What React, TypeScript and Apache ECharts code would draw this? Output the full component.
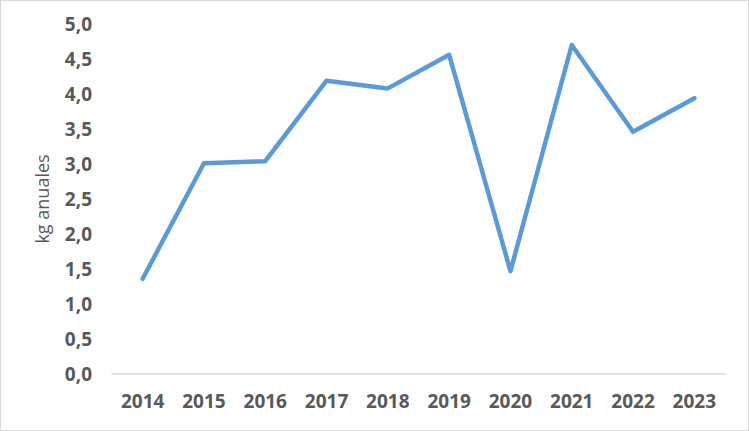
import { useEffect, useRef } from "react";
import * as echarts from "echarts";

const years = ["2014", "2015", "2016", "2017", "2018", "2019", "2020", "2021", "2022", "2023"];
const kgAnuales = [1.36, 3.01, 3.04, 4.19, 4.08, 4.56, 1.47, 4.7, 3.46, 3.94];

export default function App() {
    const containerRef = useRef<HTMLDivElement | null>(null);

    useEffect(() => {
        if (!containerRef.current) return;
        const chart = echarts.init(containerRef.current, null, { renderer: "svg" });

        const labelFont = {
            color: "#595959",
            fontFamily: "Open Sans",
            fontWeight: "bold" as const,
            fontSize: 19,
        };

        chart.setOption({
            animation: false,
            backgroundColor: "#ffffff",
            grid: { left: 111, right: 23, top: 23, bottom: 56 },
            xAxis: {
                type: "category",
                data: years,
                boundaryGap: true,
                axisLine: { show: true, lineStyle: { color: "#d9d9d9", width: 1.5 } },
                axisTick: { show: false },
                axisLabel: { ...labelFont, margin: 17 },
                splitLine: { show: false },
            },
            yAxis: {
                type: "value",
                min: 0,
                max: 5,
                interval: 0.5,
                name: "kg anuales",
                nameLocation: "middle",
                nameGap: 61,
                nameRotate: 90,
                nameTextStyle: { color: "#595959", fontFamily: "Open Sans", fontSize: 18 },
                axisLine: { show: false },
                axisTick: { show: false },
                splitLine: { show: false },
                axisLabel: {
                    ...labelFont,
                    margin: 20,
                    formatter: (v: number) => v.toFixed(1).replace(".", ","),
                },
            },
            series: [
                {
                    type: "line",
                    data: kgAnuales,
                    showSymbol: false,
                    lineStyle: { color: "#5b9bd5", width: 4.5, cap: "round", join: "round" },
                },
            ],
        });

        return () => chart.dispose();
    }, []);

    return (
        <div
            ref={containerRef}
            style={{
                position: "fixed",
                left: 0,
                top: 0,
                width: 749,
                height: 431,
                boxSizing: "border-box",
                border: "1px solid #d9d9d9",
                background: "#fff",
            }}
        />
    );
}
